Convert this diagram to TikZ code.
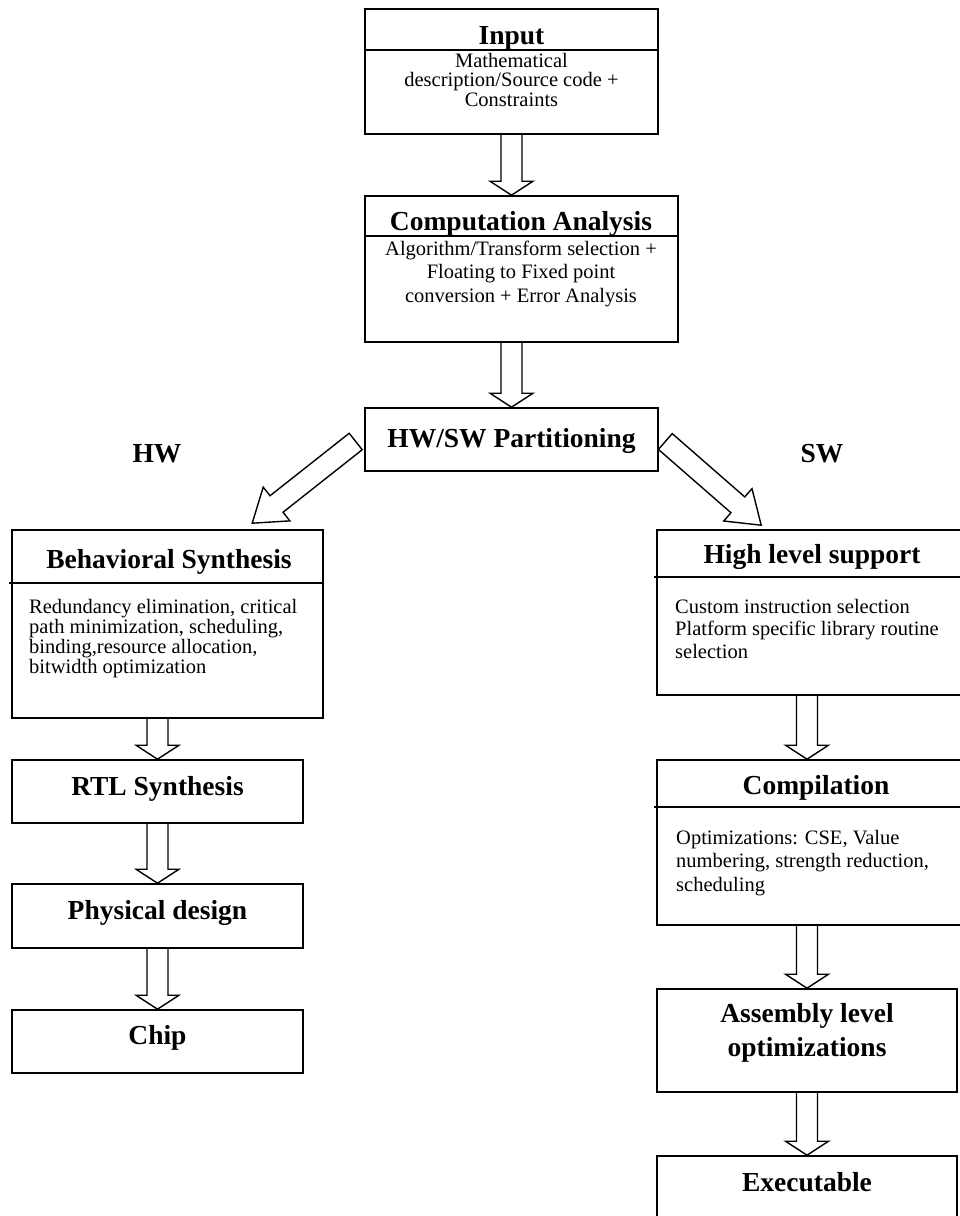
\documentclass[tikz,border=0pt]{standalone}
\usepackage{fontspec}
\setmainfont{Liberation Serif}
\usetikzlibrary{calc,fit}

% vertical hollow block arrow from the bottom of #1 to the top of #2, on the axis of #3
\newcommand\blockdown[3]{%
  \draw[blockline] let \p1=(#1.south -| #3), \p2=(#2.north -| #3) in
    (\x1-10.5pt,\y1) -- (\x1-10.5pt,\y2+14pt) -- (\x1-21.5pt,\y2+14pt) -- (\p2)
    -- (\x1+21.5pt,\y2+14pt) -- (\x1+10.5pt,\y2+14pt) -- (\x1+10.5pt,\y1);
}
% slanted hollow block arrow from tail centre #1 to tip #2
\newcommand\blockslant[2]{%
  \coordinate (headbase) at ($(#2)!31pt!(#1)$);
  \draw[blockline]
    ($(#1)!10.5pt!90:(#2)$) -- ($(headbase)!10.5pt!90:(#2)$) -- ($(headbase)!21.5pt!90:(#2)$)
    -- (#2) -- ($(headbase)!21.5pt!-90:(#2)$) -- ($(headbase)!10.5pt!-90:(#2)$)
    -- ($(#1)!10.5pt!-90:(#2)$) -- cycle;
}

\begin{document}
\begin{tikzpicture}[x=1pt,y=-1pt,
  box/.style={draw, line width=1.6pt, inner sep=0pt, rectangle},
  divider/.style={line width=1.6pt},
  blockline/.style={draw, line width=1.4pt, line join=miter},
  title/.style={font=\fontsize{27.5}{34}\selectfont\bfseries, inner sep=0pt, anchor=base, align=center},
  bodyleft/.style={font=\fontsize{20.5}{#1}\selectfont, inner sep=0pt, anchor=base west, align=left},
  bodymid/.style={font=\fontsize{20.5}{#1}\selectfont, inner sep=0pt, anchor=base, align=center}
]
\useasboundingbox (0,0) rectangle (959,1216);

% ---------- boxes ----------
\node[box, fit={(365,9) (658,134)}]      (input)  {};
\node[box, fit={(365,196) (678,342)}]    (comp)   {};
\node[box, fit={(365,408) (658,471)}]    (hwsw)   {};
\node[box, fit={(12,530) (323,718)}]     (behav)  {};
\node[box, fit={(12,760) (303,823)}]     (rtl)    {};
\node[box, fit={(12,884) (303,948)}]     (phys)   {};
\node[box, fit={(12,1010) (303,1073)}]   (chip)   {};
\node[box, fit={(657,530) (966,695)}]    (high)   {};
\node[box, fit={(657,760) (966,925)}]    (compil) {};
\node[box, fit={(657,989) (957,1092)}]   (asm)    {};
\node[box, fit={(657,1156) (957,1226)}]  (exe)    {};

% ---------- title separators ----------
\draw[divider] ([yshift=-42pt]input.north west) -- ([yshift=-42pt]input.north east);
\draw[divider] ([yshift=-41pt]comp.north west) -- ([yshift=-41pt]comp.north east);
\draw[divider] ([yshift=-54pt,xshift=-2pt]behav.north west) -- ([yshift=-54pt]behav.north east);
\draw[divider] ([yshift=-48pt,xshift=-2pt]high.north west) -- ([yshift=-48pt]high.north east);
\draw[divider] ([yshift=-48pt,xshift=-2pt]compil.north west) -- ([yshift=-48pt]compil.north east);

% ---------- titles (anchor = baseline of the last line) ----------
\node[title] (inputT)  at (511.5,44)  {Input};
\node[title] (compT)   at (521,230)   {Computation Analysis};
\node[title] (hwswT)   at (511.5,447) {HW/SW Partitioning};
\node[title] (hwlbl)   at (157,462)   {HW};
\node[title] (swlbl)   at (822,462)   {SW};
\node[title] (behavT)  at (169,568)   {Behavioral Synthesis};
\node[title] (rtlT)    at (157.5,795) {RTL Synthesis};
\node[title] (physT)   at (157.5,919) {Physical design};
\node[title] (chipT)   at (157.5,1044){Chip};
\node[title] (highT)   at (812,563)   {High level support};
\node[title] (compilT) at (816,794)   {Compilation};
\node[title] (asmT)    at (807,1056)  {Assembly level\\optimizations};
\node[title] (exeT)    at (807,1191)  {Executable};

% ---------- descriptions (anchor = baseline of the last line) ----------
\node[bodymid=19.5] (inputB) at (511.5,106)
  {Mathematical\\description/Source code +\\Constraints};
\node[bodymid=23.5] (compB) at (521,302)
  {Algorithm/Transform selection +\\Floating to Fixed point\\conversion + Error Analysis};
\node[bodyleft=20] (behavB) at (29,673)
  {Redundancy elimination, critical\\path minimization, scheduling,\\binding,resource allocation,\\bitwidth optimization};
\node[bodyleft=22.5] (highB) at (675,658)
  {Custom instruction selection\\Platform specific library routine\\selection};
\node[bodyleft=23.5] (compilB) at (676,891)
  {Optimizations: CSE, Value\\numbering, strength reduction,\\scheduling};

% ---------- flow arrows ----------
\blockdown{input}{comp}{input}
\blockdown{comp}{hwsw}{hwsw}
\blockdown{behav}{rtl}{rtl}
\blockdown{rtl}{phys}{rtl}
\blockdown{phys}{chip}{rtl}
\blockdown{high}{compil}{asm}
\blockdown{compil}{asm}{asm}
\blockdown{asm}{exe}{asm}

\coordinate (hwTail) at ($(hwsw.west)+(-8.5,2)$);
\coordinate (hwTip)  at ($(behav.north west)+(241,-6)$);
\coordinate (swTail) at ($(hwsw.east)+(6.5,2)$);
\coordinate (swTip)  at ($(high.north west)+(105,-4)$);
\blockslant{hwTail}{hwTip}
\blockslant{swTail}{swTip}
\end{tikzpicture}
\end{document}
